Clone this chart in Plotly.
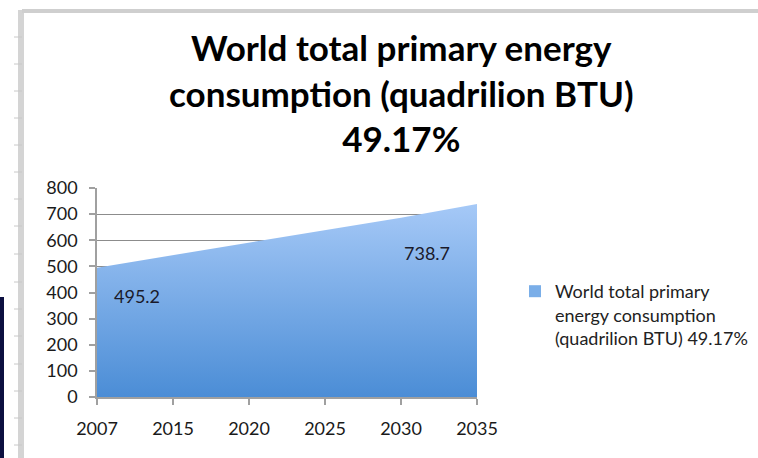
import plotly.graph_objects as go

years = ["2007", "2015", "2020", "2025", "2030", "2035"]
consumption = [495.2, 543.5, 590.5, 638.7, 686.5, 738.7]
y_ticks = [0, 100, 200, 300, 400, 500, 600, 700, 800]
title_text = "World total primary energy<br>consumption (quadrilion BTU)<br>49.17%"
series_name = "World total primary<br>energy consumption<br>(quadrilion BTU) 49.17%"
labelled = [(0, "495.2"), (5, "738.7")]

FONT = "Lato"
W, H = 758, 458
L, R, T, B = 97, 281, 188, 61

fig = go.Figure()
fig.add_trace(go.Scatter(
    x=years, y=consumption, mode="lines", line=dict(width=0, color="#7aaee8"),
    fill="tozeroy",
    fillgradient=dict(type="vertical", colorscale=[[0, "#4b8dd6"], [1, "#a6c9f7"]],
                      start=0, stop=740),
    showlegend=False, hoverinfo="skip",
))
fig.add_trace(go.Scatter(
    x=[None], y=[None], mode="markers", name=series_name,
    marker=dict(symbol="square", size=8, color="#7aaee8"),
))

pw = W - L - R
ph = H - T - B
def px(x):
    return (x - L) / pw
def py(y):
    return (H - B - y) / ph

# data labels (positioned from the data point, offset in pixels)
offsets = {0: (40, -28), 5: (-50, -49)}
for i, txt in labelled:
    dx, dy = offsets[i]
    fig.add_annotation(x=i, y=consumption[i], xref="x", yref="y", text=txt, showarrow=False,
                       xshift=dx, yshift=dy, font=dict(family=FONT, size=18, color="#1a1a2a"))

# title
fig.add_annotation(x=px(401), y=py(92), xref="paper", yref="paper", xanchor="center",
                   yanchor="middle", showarrow=False, align="center",
                   text="<b>" + title_text + "</b>",
                   font=dict(family=FONT, size=35, color="#000000"))

shapes = []
# Excel-like frame: left bar and top line
shapes.append(dict(type="rect", xref="paper", yref="paper", x0=px(18), x1=px(24), y0=py(458), y1=py(10),
                   fillcolor="#d4d4d4", line=dict(width=0), layer="below"))
shapes.append(dict(type="rect", xref="paper", yref="paper", x0=px(22), x1=px(758), y0=py(13), y1=py(9),
                   fillcolor="#cfcfcf", line=dict(width=0), layer="below"))
for ty in [37, 64, 91, 118, 145, 172, 199, 226, 254, 282, 309, 336, 364, 391, 418, 445]:
    shapes.append(dict(type="line", xref="paper", yref="paper", x0=px(14), x1=px(22), y0=py(ty), y1=py(ty),
                       line=dict(color="#c8c8c8", width=1), layer="below"))
shapes.append(dict(type="rect", xref="paper", yref="paper", x0=px(0), x1=px(4), y0=py(458), y1=py(297),
                   fillcolor="#0c0f40", line=dict(width=0), layer="below"))

fig.update_layout(
    width=W, height=H,
    margin=dict(l=L, r=R, t=T, b=B, autoexpand=False),
    paper_bgcolor="white", plot_bgcolor="white",
    font=dict(family=FONT, size=18, color="#1a1a1a"),
    xaxis=dict(type="category", range=[0, 5], showgrid=False, showline=True, linecolor="#a0a0a0",
               linewidth=1.5, ticks="outside", ticklen=6, tickcolor="#a0a0a0", tickwidth=1.5,
               tickfont=dict(family=FONT, size=18, color="#1a1a1a"), ticklabelstandoff=9, zeroline=False),
    yaxis=dict(range=[0, 800], tickvals=y_ticks, showgrid=True, gridcolor="#8c8c8c", gridwidth=1.2,
               showline=True, linecolor="#a0a0a0", linewidth=1.5, ticks="outside", ticklen=6,
               tickcolor="#a0a0a0", tickwidth=1.5, zeroline=False, ticklabelstandoff=8,
               tickfont=dict(family=FONT, size=18, color="#1a1a1a")),
    legend=dict(x=px(515), y=py(273), xanchor="left", yanchor="top", bgcolor="rgba(0,0,0,0)",
                font=dict(family=FONT, size=18, color="#222222"), itemsizing="constant",
                valign="top", tracegroupgap=0),
    shapes=shapes,
    showlegend=True,
)

fig.write_html("out.html", config={"displayModeBar": False},
               post_script="document.body.style.margin='0';")
